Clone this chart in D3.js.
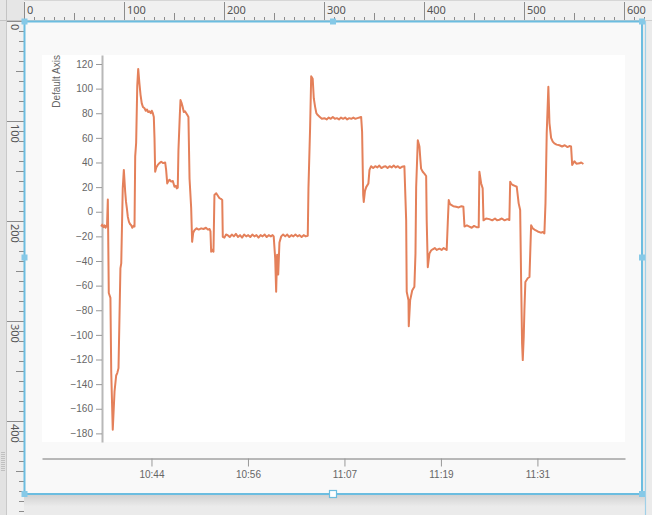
<!DOCTYPE html>
<html><head><meta charset="utf-8">
<script src="https://cdn.jsdelivr.net/npm/d3@7"></script>
<style>
html,body{margin:0;padding:0;background:#e9e9e9;overflow:hidden}
svg{display:block}
</style></head><body>
<svg id="c" width="652" height="515"></svg>
<script>
// ---- data ----
const times = [
"10:38:12","10:38:20","10:38:29","10:38:37","10:38:44","10:38:50","10:38:55","10:39:01","10:39:08","10:39:20",
"10:39:26","10:39:37","10:39:50","10:40:02","10:40:10","10:40:19","10:40:33","10:40:39","10:40:50","10:40:58",
"10:41:08","10:41:14","10:41:20","10:41:27","10:41:35","10:41:43","10:41:52","10:42:00","10:42:08","10:42:16",
"10:42:21","10:42:28","10:42:36","10:42:43","10:42:52","10:43:00","10:43:09","10:43:18","10:43:29","10:43:38",
"10:43:47","10:43:56","10:44:05","10:44:15","10:44:22","10:44:30","10:44:37","10:44:42","10:44:47","10:44:55",
"10:45:06","10:45:18","10:45:31","10:45:45","10:46:00","10:46:07","10:46:15","10:46:24","10:46:32","10:46:44",
"10:46:56","10:47:08","10:47:18","10:47:25","10:47:32","10:47:37","10:47:47","10:47:52","10:48:01","10:48:08",
"10:48:16","10:48:25","10:48:34","10:48:42","10:48:50","10:48:58","10:49:10","10:49:17","10:49:25","10:49:34",
"10:49:50","10:50:05","10:50:23","10:50:40","10:50:58","10:51:12","10:51:24","10:51:31","10:51:36","10:51:45",
"10:51:53","10:52:00","10:52:13","10:52:25","10:52:37","10:52:47","10:52:57","10:53:01","10:53:13","10:53:25",
"10:53:37","10:53:52","10:54:07","10:54:22","10:54:37","10:54:52","10:55:07","10:55:22","10:55:37","10:55:52",
"10:56:07","10:56:22","10:56:37","10:56:52","10:57:07","10:57:22","10:57:37","10:57:52","10:58:07","10:58:22",
"10:58:37","10:58:52","10:59:05","10:59:13","10:59:24","10:59:31","10:59:38","10:59:46","10:59:55","11:00:08",
"11:00:22","11:00:37","11:00:52","11:01:07","11:01:22","11:01:37","11:01:52","11:02:07","11:02:22","11:02:37",
"11:02:52","11:03:07","11:03:22","11:03:27","11:03:39","11:03:47","11:03:58","11:04:06","11:04:16","11:04:25",
"11:04:35","11:04:50","11:05:05","11:05:24","11:05:40","11:05:55","11:06:10","11:06:25","11:06:40","11:06:55",
"11:07:10","11:07:25","11:07:40","11:07:55","11:08:10","11:08:25","11:08:40","11:08:55","11:09:10","11:09:25",
"11:09:40","11:09:52","11:09:59","11:10:07","11:10:11","11:10:20","11:10:29","11:10:45","11:10:53","11:11:05",
"11:11:20","11:11:35","11:11:50","11:12:05","11:12:20","11:12:35","11:12:50","11:13:05","11:13:20","11:13:35",
"11:13:50","11:14:05","11:14:20","11:14:35","11:14:50","11:15:08","11:15:21","11:15:25","11:15:38","11:15:40",
"11:15:50","11:16:05","11:16:21","11:16:29","11:16:34","11:16:46","11:16:58","11:17:05","11:17:10","11:17:22",
"11:17:34","11:17:47","11:17:51","11:17:59","11:18:11","11:18:23","11:18:35","11:18:50","11:19:05","11:19:24",
"11:19:40","11:19:55","11:20:10","11:20:17","11:20:25","11:20:32","11:20:40","11:20:50","11:21:05","11:21:26",
"11:21:45","11:22:05","11:22:19","11:22:27","11:22:45","11:23:03","11:23:20","11:23:37","11:23:55","11:24:11",
"11:24:16","11:24:29","11:24:40","11:24:46","11:25:05","11:25:29","11:25:50","11:26:10","11:26:25","11:26:42",
"11:27:00","11:27:20","11:27:40","11:27:55","11:28:01","11:28:10","11:28:20","11:28:35","11:28:49","11:29:03",
"11:29:14","11:29:21","11:29:28","11:29:33","11:29:40","11:29:45","11:29:52","11:30:09","11:30:22","11:30:34",
"11:30:46","11:31:05","11:31:22","11:31:45","11:32:00","11:32:11","11:32:19","11:32:28","11:32:40","11:32:48",
"11:33:00","11:33:12","11:33:24","11:33:40","11:34:01","11:34:20","11:34:40","11:35:00","11:35:14","11:35:26",
"11:35:34","11:35:50","11:36:05","11:36:27","11:36:40","11:36:56"
];
const values = [
-12,-10.5,-12.5,-11,-13,-11.5,-12,10,-66,-70,
-131,-177,-146,-133,-131,-127,-46,-42,19,34,
16,8,3,-4,-8,-10,-11,-13,-11.5,-12,
45,56,102,116,104,95,88,85,84,82,
83,81,81.5,80,82,80,77,60,32.5,36,
38,39.5,40.6,39.5,40,34,23,25,26,24.5,
25,20.3,21,19,19.5,50,78.5,90.7,88,85,
81,81.5,80,78.5,77,27,3,-24.4,-17,-15,
-13.5,-14.5,-13.5,-14,-13,-14.5,-14,-16,-32.5,-31,
-32.5,13.6,15,13,11,10.5,9.5,-20.3,-21,-18.5,
-19,-20.5,-18.5,-20,-18,-20.5,-19,-21,-18.5,-20,
-19,-20.5,-18.5,-20,-19,-21,-19,-20,-18.5,-20.5,
-19,-20,-19,-20,-38,-65,-35,-51,-25,-20,
-18.5,-20,-18.5,-20.5,-19,-20,-18.5,-20,-19,-20.5,
-19,-20,-19.5,19,68,110,108,92,85,80,
78.5,77,75.5,76,75,76.5,75.5,77,75.5,76,
75,76.5,75.5,76.5,75,76,75.5,76.5,75.5,76,
76.5,77,65,13.6,8,17,20,23,34,37,
35.5,37,36,37.5,35.5,36.5,37,35.5,37,36,
37.5,36,37,35.5,36.5,37,-7,-65,-72,-93,
-72,-64,-61,-34,20,58,53,42,35,32.5,
31,29,-7,-45,-34,-31.5,-30.5,-29.5,-31,-30,
-31,-29.5,-30.5,-31,-9,9.5,6.5,5.5,4.5,4,
3.5,4.5,4,-12,-11,-12,-13,-11.5,-12.5,-12.5,
32.5,23,19,-7,-5.5,-6,-7,-5.5,-7,-6.5,
-5.5,-7,-6,-6.7,24.4,22.5,21.7,21,20.3,6.8,
1.4,-55.5,-107,-120.5,-101.5,-80,-57,-54,-53,-11,
-13.5,-15,-16,-17,-16.5,-17.6,7,64,101.5,72,
60,57,55.5,54.5,54,53,54,52.5,53.4,53,
38,41,39,39.3,40,38.8
];
const yTicks = [120,100,80,60,40,20,0,-20,-40,-60,-80,-100,-120,-140,-160,-180];
const xTickTimes = ["10:44:20","10:56:05","11:07:50","11:19:35","11:31:20"];
const xDomain = ["10:31:00","11:42:00"];
const yDomain = [-187, 127.3];
const yAxisTitle = "Default Axis";
const rulerTopLabels = [0,100,200,300,400,500,600];
const rulerLeftLabels = [0,100,200,300,400];

// ---- drawing ----
const parse = d3.timeParse("%H:%M:%S");
const svg = d3.select("#c");
const W = 652, H = 515;

const defs = svg.append("defs");
const g1 = defs.append("linearGradient").attr("id","shadow").attr("x1",0).attr("y1",0).attr("x2",0).attr("y2",1);
g1.append("stop").attr("offset","0%").attr("stop-color","#d2d2d2");
g1.append("stop").attr("offset","100%").attr("stop-color","#ececec");

// page background
svg.append("rect").attr("width",W).attr("height",H).attr("fill","#ebebeb");
// shadow below frame
svg.append("rect").attr("x",24).attr("y",495).attr("width",621).attr("height",12).attr("fill","url(#shadow)");
// canvas
svg.append("rect").attr("x",24).attr("y",21).attr("width",618).attr("height",473).attr("fill","#f9f9f9");
// right vertical line
svg.append("line").attr("x1",645.5).attr("x2",645.5).attr("y1",20).attr("y2",H).attr("stroke","#9fd0e8").attr("stroke-width",1.2);

// top ruler
svg.append("rect").attr("x",0).attr("y",0).attr("width",W).attr("height",20).attr("fill","#f0f0f0");
svg.append("line").attr("x1",0).attr("x2",W).attr("y1",20.5).attr("y2",20.5).attr("stroke","#cfcfcf");
svg.append("line").attr("x1",0).attr("x2",W).attr("y1",0.5).attr("y2",0.5).attr("stroke","#d6d6d6");
// left ruler
svg.append("rect").attr("x",0).attr("y",0).attr("width",24).attr("height",H).attr("fill","#f1f1f1");
svg.append("rect").attr("x",0).attr("y",0).attr("width",6).attr("height",H).attr("fill","#e2e2e2");
svg.append("line").attr("x1",6.5).attr("x2",6.5).attr("y1",0).attr("y2",H).attr("stroke","#c9c9c9");
svg.append("rect").attr("x",0).attr("y",0).attr("width",24).attr("height",20).attr("fill","#e6e6e6");
svg.append("line").attr("x1",0).attr("x2",24).attr("y1",20.5).attr("y2",20.5).attr("stroke","#c4c4c4");
svg.append("line").attr("x1",6.5).attr("x2",6.5).attr("y1",0).attr("y2",20).attr("stroke","#c4c4c4");

const rt = svg.append("g");
d3.range(0, 630, 10).forEach(v => {
  const x = Math.round(24 + v) + 0.5;
  if (x > W) return;
  let y1 = 17;
  if (v % 100 === 0) y1 = 2; else if (v % 50 === 0) y1 = 13;
  rt.append("line").attr("x1",x).attr("x2",x).attr("y1",y1).attr("y2",20).attr("stroke","#8c8c8c");
});
rt.selectAll("text").data(rulerTopLabels).join("text")
  .attr("x", d => 24 + d + 3).attr("y", 14)
  .attr("font-family","'Noto Sans','Open Sans',sans-serif").attr("font-size",11).attr("fill","#555")
  .text(d => d);

const rl = svg.append("g");
d3.range(0, 500, 10).forEach(v => {
  const y = Math.round(21 + v) + 0.5;
  if (y > H) return;
  let x1 = 19;
  if (v % 100 === 0) x1 = 7; else if (v % 50 === 0) x1 = 16;
  rl.append("line").attr("x1",x1).attr("x2",24).attr("y1",y).attr("y2",y).attr("stroke","#8c8c8c");
});
rl.selectAll("text").data(rulerLeftLabels).join("text")
  .attr("transform", d => `translate(11,${21 + d + 3}) rotate(90)`)
  .attr("font-family","'Noto Sans','Open Sans',sans-serif").attr("font-size",11).attr("fill","#555")
  .text(d => d);
// grip dots
d3.range(452, 472, 2).forEach(y => {
  svg.append("line").attr("x1",1).attr("x2",5).attr("y1",y+0.5).attr("y2",y+0.5).attr("stroke","#c0c0c0");
});

// plot area
svg.append("rect").attr("x",42).attr("y",55).attr("width",583).attr("height",387).attr("fill","#ffffff");

const x = d3.scaleTime().domain(xDomain.map(parse)).range([42, 625]);
const y = d3.scaleLinear().domain(yDomain).range([442, 55]);

// y axis
const ya = svg.append("g").attr("transform","translate(102,0)")
  .call(d3.axisLeft(y).tickValues(yTicks).tickSize(6).tickSizeOuter(0).tickPadding(3));
ya.select(".domain").attr("stroke","#b8b8b8").attr("stroke-width",2);
ya.selectAll(".tick line").attr("stroke","#999");
ya.selectAll(".tick text").attr("fill","#666").attr("font-size",10).attr("font-family","'Liberation Sans',Arial,sans-serif");

svg.append("text").attr("transform","translate(60,55) rotate(-90)")
  .attr("text-anchor","end").attr("font-family","'Liberation Sans',Arial,sans-serif")
  .attr("font-size",10).attr("fill","#666").text(yAxisTitle);

// x axis
const xa = svg.append("g").attr("transform","translate(0,458.5)")
  .call(d3.axisBottom(x).tickValues(xTickTimes.map(parse)).tickFormat(d3.timeFormat("%H:%M"))
    .tickSize(8).tickSizeOuter(0).tickPadding(4));
xa.select(".domain").attr("stroke","#777");
xa.selectAll(".tick line").attr("stroke","#999");
xa.selectAll(".tick text").attr("fill","#666").attr("font-size",10).attr("font-family","'Liberation Sans',Arial,sans-serif");

// series line
const pts = times.map((t, i) => ({t: parse(t), v: values[i]}));
svg.append("path").datum(pts)
  .attr("fill","none").attr("stroke","#e4805a").attr("stroke-width",2)
  .attr("stroke-linejoin","round")
  .attr("d", d3.line().x(d => x(d.t)).y(d => y(d.v)));

// selection frame
svg.append("rect").attr("x",24.5).attr("y",21.5).attr("width",617.5).attr("height",472.5)
  .attr("fill","none").attr("stroke","#6cbde0").attr("stroke-width",2);
const handles = [[24.5,21.5],[333,21.5],[642,21.5],[24.5,257.5],[642,257.5],[24.5,494],[642,494]];
handles.forEach(([hx,hy]) => {
  svg.append("rect").attr("x",hx-3).attr("y",hy-3).attr("width",6).attr("height",6).attr("fill","#86c9e7");
});
svg.append("rect").attr("x",329.5).attr("y",490.5).attr("width",7).attr("height",7)
  .attr("fill","#fff").attr("stroke","#6cbde0").attr("stroke-width",1.2);
</script>
</body></html>
